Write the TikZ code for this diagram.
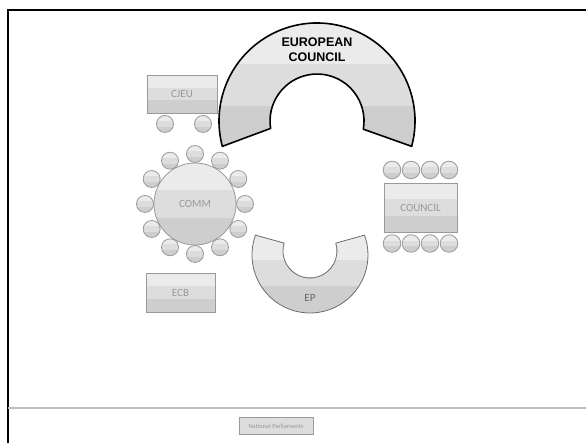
\documentclass[tikz,border=0pt]{standalone}
\usepackage{fontspec}
\setmainfont{Carlito}
\newfontfamily\arialb{Liberation Sans}
\definecolor{bandA}{HTML}{EBEBEB}
\definecolor{bandB}{HTML}{DDDDDD}
\definecolor{bandC}{HTML}{CECECE}
\definecolor{edgegray}{HTML}{9A9A9A}
\definecolor{txtgray}{HTML}{999999}
\definecolor{rulegray}{HTML}{BDBDBD}
\newcommand\banded[3]{%
 \begin{scope}
 \clip #1;
 \fill[bandA] (0,{#2}) rectangle (586,{(#2)-((#2)-(#3))/3});
 \fill[bandB] (0,{(#2)-((#2)-(#3))/3}) rectangle (586,{(#2)-2*((#2)-(#3))/3});
 \fill[bandC] (0,{(#2)-2*((#2)-(#3))/3}) rectangle (586,{#3});
 \end{scope}}
\newcommand\seat[3]{%
 \banded{(#1,#2) circle[radius=#3]}{(#2)+(#3)}{(#2)-(#3)}%
 \draw[seatedge] (#1,#2) circle[radius=#3];}
\tikzset{
 seatedge/.style={draw=edgegray,line width=0.8pt},
 seattext/.style={text=txtgray,font=\fontsize{11}{13}\selectfont,inner sep=0pt},
}
\begin{document}
\begin{tikzpicture}[x=1pt,y=1pt]
\useasboundingbox (0,0) rectangle (586,443);
\fill[white] (0,0) rectangle (586,443);
% frame
\draw[line width=1.5pt,black] (8,0) -- (8,433) -- (586,433);
\draw[rulegray,line width=1.6pt] (8,35) -- (586,35);
% National Parliaments
\fill[gray!40] (240,8) rectangle (314,25);
\node[draw=edgegray,fill=bandB,minimum width=74pt,minimum height=17pt,inner sep=0pt,
 text=txtgray,font=\fontsize{6.5}{7}\selectfont] (np) at (276,17) {National Parliaments};
% European Council
\banded{(317,322) ++(-15:98) arc[start angle=-15,end angle=195,radius=98] -- (270.6,314.6) arc[start angle=189,end angle=-10,radius=47] -- cycle}{420}{296}
\draw[black,line width=1.6pt,line join=round] (317,322) ++(-15:98) arc[start angle=-15,end angle=195,radius=98] -- (270.6,314.6) arc[start angle=189,end angle=-10,radius=47] -- cycle;
\node[align=center,font=\arialb\bfseries\fontsize{12.5}{15}\selectfont,inner sep=0pt] (ec) at (317,393.5) {EUROPEAN\\COUNCIL};
% CJEU
\banded{(147,330) rectangle (217,368)}{368}{330}
\draw[seatedge] (147,330) rectangle (217,368);
\node[seattext] (cjeu) at (182,349) {CJEU};
\seat{165}{319}{8.5}
\seat{203}{319}{8.5}
% COMM
\banded{(195,239) circle[radius=41]}{280}{198}
\draw[seatedge] (195,239) circle[radius=41];
\node[seattext] (comm) at (195,239) {COMM};
\foreach \a in {0,30,...,330}{%
 \pgfmathsetmacro\sx{195+50*cos(\a)}%
 \pgfmathsetmacro\sy{239+50*sin(\a)}%
 \seat{\sx}{\sy}{8.5}}
% ECB
\banded{(146,131) rectangle (215,170)}{170}{131}
\draw[seatedge] (146,131) rectangle (215,170);
\node[seattext] (ecb) at (180.5,150.5) {ECB};
% COUNCIL
\banded{(384,211) rectangle (457,260)}{260}{211}
\draw[seatedge] (384,211) rectangle (457,260);
\node[seattext] (council) at (420.5,235.5) {COUNCIL};
\foreach \x in {392,411,430,449}{%
 \seat{\x}{273}{8.8}
 \seat{\x}{199.5}{8.8}}
% EP
\banded{(310,188) ++(160:58) arc[start angle=160,end angle=380,radius=58] -- (335.8,199.9) arc[start angle=17,end angle=-197,radius=27] -- cycle}{210}{130}
\draw[draw=gray!85!black,line width=0.8pt] (310,188) ++(160:58) arc[start angle=160,end angle=380,radius=58] -- (335.8,199.9) arc[start angle=17,end angle=-197,radius=27] -- cycle;
\node[seattext,text=gray!80!black] (ep) at (310,145) {EP};
\end{tikzpicture}
\end{document}
